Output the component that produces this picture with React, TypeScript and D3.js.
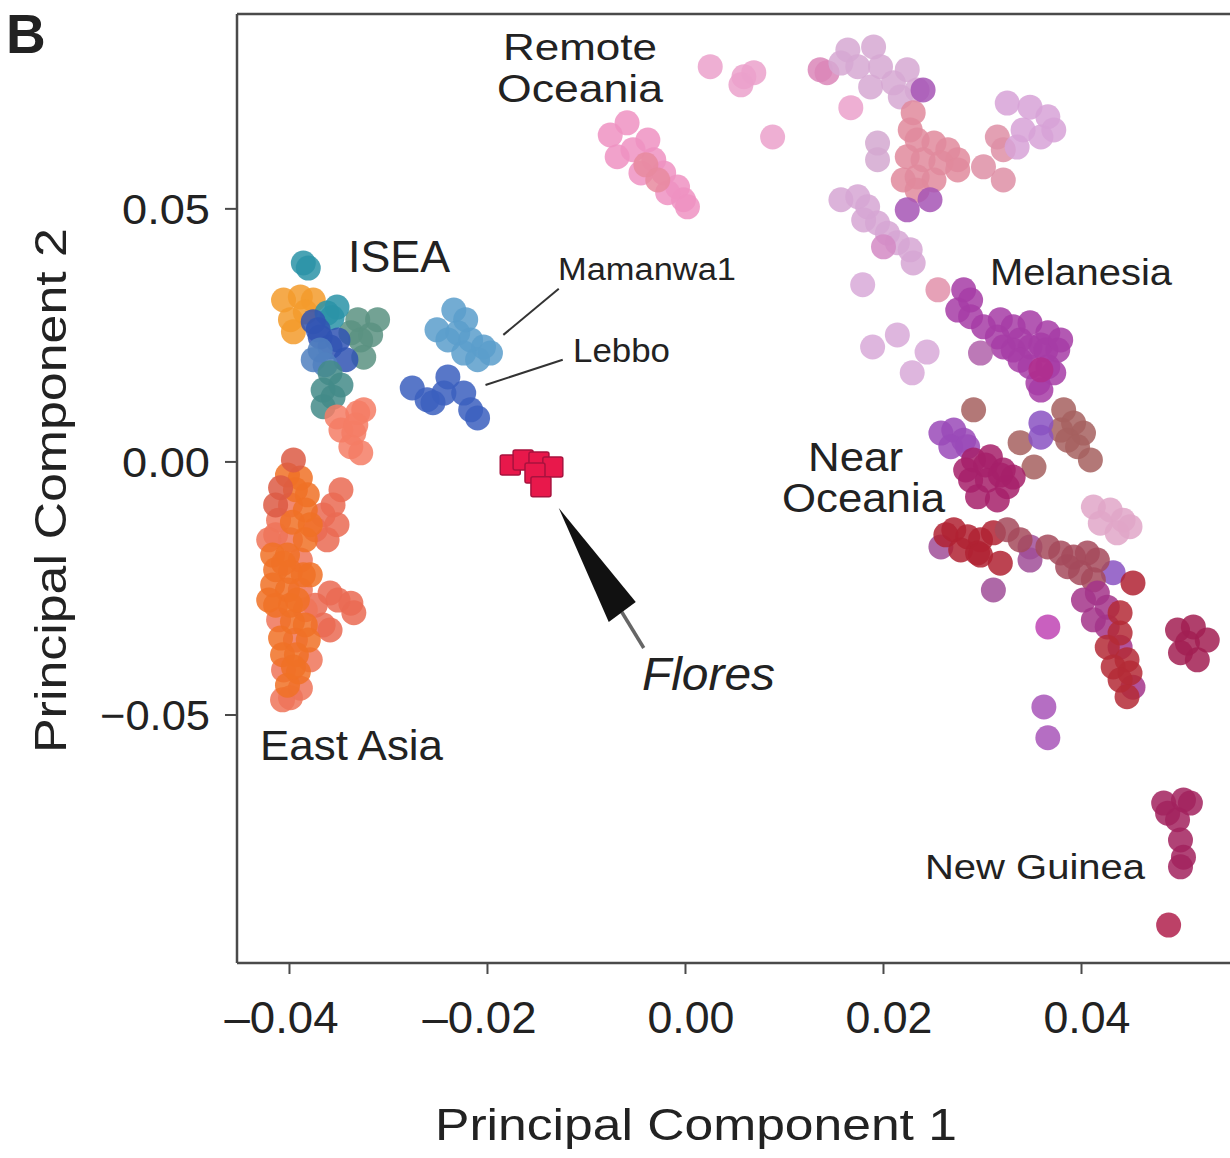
import React from "react";
import * as d3 from "d3";

// ---------- axis definitions ----------
const xDomain = [-0.0453, 0.055];
const yDomain = [-0.099, 0.0885];
const xTicks = [-0.04, -0.02, 0, 0.02, 0.04];
const xTickLabels = ["–0.04", "–0.02", "0.00", "0.02", "0.04"];
const yTicks = [0.05, 0, -0.05];
const yTickLabels = ["0.05", "0.00", "−0.05"];

// ---------- data (PC1, PC2) ----------
const eastAsiaOrange = [
  [-0.0402, -0.0026], [-0.0389, -0.0032], [-0.0394, -0.0055], [-0.0382, -0.0065],
  [-0.0384, -0.0095], [-0.0397, -0.0119], [-0.0379, -0.0124], [-0.0384, -0.0154],
  [-0.0417, -0.0184], [-0.0402, -0.0184], [-0.0414, -0.0213], [-0.0399, -0.0217],
  [-0.0386, -0.0223], [-0.0417, -0.0243], [-0.0402, -0.0253], [-0.0414, -0.0283],
  [-0.0399, -0.0283], [-0.0397, -0.0316], [-0.0384, -0.0322], [-0.0409, -0.0348],
  [-0.0381, -0.0352], [-0.0407, -0.0381], [-0.0393, -0.0381], [-0.0391, -0.0415],
  [-0.0402, -0.0441], [-0.0406, -0.02], [-0.0392, -0.0273], [-0.0379, -0.0223],
  [-0.0421, -0.0273], [-0.0396, -0.0405],
];
const eastAsiaSalmon = [
  [-0.0399, -0.0085], [-0.0411, -0.0115], [-0.0414, -0.0144], [-0.0399, -0.0154],
  [-0.0389, -0.0194], [-0.0389, -0.0253], [-0.0384, -0.0292], [-0.0411, -0.0312],
  [-0.0394, -0.0352], [-0.0406, -0.0411], [-0.0389, -0.0447], [-0.0399, -0.0466],
  [-0.0421, -0.0154], [-0.0407, -0.047], [-0.0379, -0.0391],
];
const eastAsiaRed = [[-0.0396, 0.0004], [-0.0409, -0.0051], [-0.0414, -0.0085]];
const eastAsiaBranch = [
  [-0.0348, -0.0055], [-0.0356, -0.0085], [-0.0366, -0.0105], [-0.0352, -0.0124],
  [-0.0362, -0.0154], [-0.0374, -0.0134], [-0.0359, -0.0259], [-0.0338, -0.0279],
  [-0.0335, -0.0298], [-0.0351, -0.0273], [-0.0359, -0.0332], [-0.0366, -0.0322],
  [-0.0374, -0.0283],
];

const iseaOrange = [[-0.0406, 0.032], [-0.0389, 0.0326], [-0.0376, 0.032], [-0.0399, 0.0281], [-0.0396, 0.0257], [-0.0384, 0.0296]];
const iseaGreen = [[-0.0331, 0.0281], [-0.0311, 0.0281], [-0.0338, 0.0255], [-0.0328, 0.0241], [-0.0325, 0.0207], [-0.0318, 0.0251]];
const iseaTeal = [[-0.0386, 0.0393], [-0.0381, 0.0383], [-0.0362, 0.0294], [-0.0352, 0.0306], [-0.0357, 0.0285]];
const iseaBlue = [[-0.0376, 0.0277], [-0.0369, 0.0247], [-0.0359, 0.0227], [-0.0371, 0.0261], [-0.0351, 0.0241], [-0.0343, 0.0202]];
const iseaSlate = [[-0.0376, 0.0202], [-0.0369, 0.0221], [-0.0364, 0.0192]];
const iseaTealGreen = [[-0.0359, 0.0176], [-0.0366, 0.0142], [-0.0356, 0.0128], [-0.0366, 0.0109], [-0.0348, 0.0152]];
const iseaSalmon = [[-0.0352, 0.0089], [-0.0331, 0.0097], [-0.0325, 0.0103], [-0.0348, 0.0063], [-0.0335, 0.0057], [-0.0338, 0.003], [-0.0328, 0.0018], [-0.0333, 0.0073]];

const mamanwa = [[-0.0234, 0.03], [-0.0251, 0.0261], [-0.023, 0.0255], [-0.0217, 0.0241], [-0.0204, 0.0227], [-0.021, 0.0202], [-0.0224, 0.0215], [-0.024, 0.0241], [-0.0197, 0.0215], [-0.0222, 0.0281]];
const lebbo = [[-0.0276, 0.0146], [-0.0261, 0.0123], [-0.024, 0.0168], [-0.0244, 0.0136], [-0.0224, 0.0136], [-0.0217, 0.0103], [-0.021, 0.0087], [-0.0255, 0.0117]];
const flores = [[-0.0177, -0.0006], [-0.0164, 0.0004], [-0.0148, 0.0], [-0.0134, -0.001], [-0.0152, -0.0022], [-0.0146, -0.0049]];

const remotePink = [
  [-0.0059, 0.067], [-0.0038, 0.0636], [-0.0069, 0.0603], [-0.0053, 0.0617], [-0.0032, 0.0597],
  [-0.0022, 0.0571], [-0.0045, 0.0571], [-0.0008, 0.0543], [-0.0002, 0.0518], [0.0002, 0.0504],
  [-0.0018, 0.0532], [-0.0076, 0.0646],
];
const remotePinkDark = [[-0.004, 0.0587], [-0.0028, 0.0557]];
const remoteScatter = [[0.0025, 0.0781], [0.0059, 0.0761], [0.0069, 0.0769], [0.0056, 0.0745], [0.0088, 0.0642], [0.0167, 0.07]];
const topArcLavender = [[0.0164, 0.0814], [0.019, 0.082], [0.0174, 0.0781], [0.0197, 0.0781], [0.0187, 0.0741], [0.021, 0.0749], [0.0224, 0.0775], [0.0234, 0.0735], [0.0217, 0.0721], [0.0157, 0.0788]];
const topArcPink = [[0.0143, 0.0769], [0.0136, 0.0775]];
const polyPurple = [[0.024, 0.0735], [0.0224, 0.0498], [0.0247, 0.0518]];
const lavenderPair = [[0.0194, 0.063], [0.0194, 0.0597]];
const centerSalmon = [
  [0.023, 0.069], [0.0227, 0.0656], [0.0234, 0.0636], [0.0251, 0.063], [0.0265, 0.0617],
  [0.0275, 0.0597], [0.0224, 0.0603], [0.024, 0.0597], [0.0258, 0.0591], [0.0275, 0.0577],
  [0.022, 0.0557], [0.0234, 0.0563], [0.0251, 0.0557], [0.0234, 0.0537],
];
const rightLavender = [[0.0325, 0.0709], [0.0348, 0.0701], [0.0366, 0.0682], [0.0372, 0.0656], [0.0359, 0.0642], [0.0341, 0.0656], [0.0335, 0.0622]];
const rightSalmon = [[0.0315, 0.0642], [0.0321, 0.0617], [0.0301, 0.0583], [0.0321, 0.0557]];
const diagLavender = [[0.0157, 0.0518], [0.0174, 0.0524], [0.0184, 0.0504], [0.018, 0.0478], [0.0194, 0.0472], [0.0204, 0.0452], [0.0214, 0.0433], [0.0227, 0.0419], [0.023, 0.0393]];
const diagPink = [[0.02, 0.0425]];
const scatterLavender = [[0.0179, 0.035], [0.0189, 0.0227], [0.0214, 0.0251], [0.0244, 0.0217], [0.0229, 0.0176]];
const scatterSalmon = [[0.0255, 0.034]];

const melanesia = [
  [0.0281, 0.034], [0.0275, 0.03], [0.0288, 0.0287], [0.0301, 0.0267], [0.0315, 0.0247],
  [0.0331, 0.0267], [0.0348, 0.0275], [0.0366, 0.0255], [0.0376, 0.0221], [0.0348, 0.0227],
  [0.0331, 0.0221], [0.0321, 0.0227], [0.0348, 0.0188], [0.0366, 0.0188], [0.0356, 0.0156],
  [0.0372, 0.0176], [0.0338, 0.0241], [0.0359, 0.0231], [0.0318, 0.0281], [0.0338, 0.0201],
  [0.0364, 0.0221], [0.0359, 0.0142], [0.0288, 0.032], [0.0379, 0.0241],
];
const melanesiaMauve = [[0.0298, 0.0215]];
const melanesiaMagenta = [[0.0359, 0.0182]];

const nearPurple = [[0.0258, 0.0057], [0.0271, 0.0063], [0.0281, 0.0043], [0.0268, 0.003], [0.0285, 0.003]];
const nearBrown = [[0.0291, 0.0103], [0.0382, 0.0103], [0.0392, 0.0077], [0.0402, 0.0057], [0.0386, 0.0043], [0.0396, 0.003], [0.0409, 0.0004], [0.0338, 0.0038], [0.0379, 0.0063], [0.0352, -0.001]];
const nearViolet = [[0.0359, 0.0077], [0.0359, 0.0049], [0.0432, -0.0219]];
const nearCrimson = [[0.0291, 0.0004], [0.0308, 0.001], [0.0321, -0.0016], [0.0288, -0.0036], [0.0305, -0.0036], [0.0325, -0.0049], [0.0295, -0.0069], [0.0315, -0.0075], [0.0331, -0.003], [0.0303, -0.0006], [0.0318, -0.0026], [0.0283, -0.0016]];
const nearDarkRed = [[0.0271, -0.0134], [0.0285, -0.0148], [0.0298, -0.0154], [0.0278, -0.0174], [0.0295, -0.018], [0.0311, -0.014], [0.0318, -0.02], [0.0452, -0.0239], [0.0263, -0.0144], [0.0298, -0.0184]];
const nearMauve = [[0.0258, -0.0168], [0.0311, -0.0253], [0.0348, -0.0168], [0.0348, -0.0194]];
const nearLilac = [[0.0362, -0.0484], [0.0366, -0.0545]];
const nearChain = [[0.0325, -0.0134], [0.0338, -0.0154], [0.0366, -0.0168], [0.0379, -0.018], [0.0392, -0.0188], [0.0406, -0.018], [0.0416, -0.0194], [0.0386, -0.0207], [0.0399, -0.0219], [0.0412, -0.0233]];
const nearLightPink = [[0.0412, -0.0089], [0.0429, -0.0095], [0.0442, -0.0115], [0.0419, -0.0121], [0.0436, -0.014], [0.0449, -0.0128]];
const nearLowerMagenta = [[0.0402, -0.0273], [0.0416, -0.0259], [0.0426, -0.0287], [0.0412, -0.0312], [0.0426, -0.0326], [0.0439, -0.0366], [0.0452, -0.0445]];
const nearLowerRed = [[0.0439, -0.0298], [0.0439, -0.0338], [0.0426, -0.0366], [0.0446, -0.0391], [0.0432, -0.0405], [0.0449, -0.0417], [0.0439, -0.0431], [0.0446, -0.0464]];
const nearSingleMagenta = [[0.0366, -0.0326]];
const rightCrimson = [[0.0497, -0.0332], [0.0513, -0.0326], [0.0527, -0.0352], [0.05, -0.0377], [0.0517, -0.0391], [0.0507, -0.0358]];
const newGuinea = [[0.0483, -0.0674], [0.0503, -0.0668], [0.051, -0.0674], [0.0497, -0.0707], [0.05, -0.0747], [0.0503, -0.0781], [0.05, -0.08], [0.0487, -0.0694]];
const newGuineaSingle = [[0.0488, -0.0915]];

// ---------- styling (separate from data) ----------
const circleGroups: [number[][], string][] = [
  [eastAsiaBranch, "#ea6a52"],
  [eastAsiaSalmon, "#ef7459"],
  [eastAsiaOrange, "#f07126"],
  [eastAsiaRed, "#dc5a44"],
  [iseaOrange, "#f39b2b"],
  [iseaGreen, "#5b9281"],
  [iseaTeal, "#2a93a7"],
  [iseaBlue, "#3054b3"],
  [iseaSlate, "#5080c0"],
  [iseaTealGreen, "#438b88"],
  [iseaSalmon, "#f47c65"],
  [mamanwa, "#5b9ecb"],
  [lebbo, "#3b5fbe"],
  [remotePink, "#ee92c2"],
  [remotePinkDark, "#e7899f"],
  [remoteScatter, "#eba1cb"],
  [topArcPink, "#da86b8"],
  [topArcLavender, "#d6a8d2"],
  [lavenderPair, "#d4a8d0"],
  [centerSalmon, "#e08a9c"],
  [polyPurple, "#a655b5"],
  [rightSalmon, "#de8fa6"],
  [rightLavender, "#d7a2d7"],
  [diagLavender, "#d6a6d4"],
  [diagPink, "#d38ac4"],
  [scatterLavender, "#d8a9d8"],
  [scatterSalmon, "#e290aa"],
  [melanesia, "#a63ca6"],
  [melanesiaMauve, "#b062aa"],
  [melanesiaMagenta, "#b02d8c"],
  [nearBrown, "#a6605f"],
  [nearPurple, "#9a4ab8"],
  [nearViolet, "#8a52c2"],
  [nearCrimson, "#a6206a"],
  [nearMauve, "#a04d98"],
  [nearDarkRed, "#b02232"],
  [nearChain, "#a44a5c"],
  [nearLightPink, "#e0a6c8"],
  [nearLowerMagenta, "#a3348a"],
  [nearLowerRed, "#b42a36"],
  [nearSingleMagenta, "#c044b4"],
  [nearLilac, "#a855b8"],
  [rightCrimson, "#a21e52"],
  [newGuinea, "#a2225e"],
  [newGuineaSingle, "#b0204c"],
];

const FONT = "'Liberation Sans', Arial, Helvetica, sans-serif";
const INK = "#222";

export default function App() {
  const x = d3.scaleLinear().domain(xDomain).range([237, 1230]);
  const y = d3.scaleLinear().domain(yDomain).range([963, 14]);
  const left = x(xDomain[0]);
  const right = x(xDomain[1]);
  const top = y(yDomain[1]);
  const bottom = y(yDomain[0]);
  const R = 12.5;

  // Flores arrow anchored at a data position near the Flores cluster
  const tipX = x(-0.0128);
  const tipY = y(-0.0091);

  const label = (t: string, xx: number, yy: number, fs: number, len: number, extra: any = {}) => (
    <text x={xx} y={yy} fontSize={fs} fontFamily={FONT} fill={INK} textLength={len} lengthAdjust="spacingAndGlyphs" {...extra}>
      {t}
    </text>
  );

  return (
    <svg width={1230} height={1158} style={{ position: "absolute", left: 0, top: 0, background: "#fff" }}>
      <rect x={0} y={0} width={1230} height={1158} fill="#fff" />
      {/* points */}
      <g>
        {circleGroups.map(([pts, col], gi) =>
          pts.map((p, i) => (
            <circle key={gi + "-" + i} cx={x(p[0])} cy={y(p[1])} r={R} fill={col} fillOpacity={0.85} />
          ))
        )}
        {flores.map((p, i) => (
          <rect key={"f" + i} x={x(p[0]) - 10} y={y(p[1]) - 10} width={20} height={20} rx={2} fill="#e8184b" stroke="#a8123e" strokeWidth={1.5} />
        ))}
      </g>

      {/* frame */}
      <line x1={left} x2={left} y1={top} y2={bottom} stroke="#4a4a4a" strokeWidth={2.5} />
      <line x1={left} x2={right} y1={top} y2={top} stroke="#4a4a4a" strokeWidth={2.5} />
      <line x1={left} x2={right} y1={bottom} y2={bottom} stroke="#4a4a4a" strokeWidth={2.5} />

      {/* x ticks */}
      {xTicks.map((t, i) => (
        <g key={"xt" + i}>
          <line x1={x(t)} x2={x(t)} y1={bottom} y2={bottom + 11} stroke="#4a4a4a" strokeWidth={2} />
          <text x={x(t) + 49} y={1033} textAnchor="end" fontSize={44} fontFamily={FONT} fill={INK}
            textLength={xTickLabels[i].length === 5 ? 114 : 87} lengthAdjust="spacingAndGlyphs">
            {xTickLabels[i]}
          </text>
        </g>
      ))}
      {/* y ticks */}
      {yTicks.map((t, i) => (
        <g key={"yt" + i}>
          <line x1={left - 12} x2={left} y1={y(t)} y2={y(t)} stroke="#4a4a4a" strokeWidth={2} />
          <text x={210} y={y(t) + 15} textAnchor="end" fontSize={42} fontFamily={FONT} fill={INK}
            textLength={yTickLabels[i].length === 5 ? 110 : 88} lengthAdjust="spacingAndGlyphs">
            {yTickLabels[i]}
          </text>
        </g>
      ))}

      {/* axis titles */}
      {label("Principal Component 1", 435, 1140, 45, 522)}
      <text transform="translate(66,753) rotate(-90)" fontSize={45} fontFamily={FONT} fill={INK} textLength={525} lengthAdjust="spacingAndGlyphs">
        Principal Component 2
      </text>
      <text x={6} y={53} fontSize={55} fontWeight="bold" fontFamily={FONT} fill={INK}>B</text>

      {/* region labels */}
      {label("Remote", 503, 60, 37, 154)}
      {label("Oceania", 497, 102, 39, 166)}
      {label("ISEA", 348, 272, 44, 102)}
      {label("Mamanwa1", 558, 280, 31, 178)}
      {label("Lebbo", 573, 362, 33, 97)}
      {label("East Asia", 260, 760, 42, 183)}
      {label("Flores", 642, 690, 46, 133, { fontStyle: "italic" })}
      {label("Melanesia", 990, 285, 36, 182)}
      {label("Near", 808, 471, 40, 95)}
      {label("Oceania", 782, 512, 40, 163)}
      {label("New Guinea", 925, 879, 35, 220)}

      {/* leader lines */}
      <line x1={x(-0.0184)} y1={y(0.0251)} x2={x(-0.0128)} y2={y(0.0342)} stroke="#333" strokeWidth={2} />
      <line x1={x(-0.0202)} y1={y(0.0152)} x2={x(-0.0124)} y2={y(0.0202)} stroke="#333" strokeWidth={2} />

      {/* Flores arrow */}
      <line x1={tipX + 63} y1={tipY + 104} x2={tipX + 85} y2={tipY + 140} stroke="#666" strokeWidth={3.5} />
      <polygon points={`${tipX},${tipY} ${tipX + 50},${tipY + 114} ${tipX + 77},${tipY + 94}`} fill="#111" />
    </svg>
  );
}
